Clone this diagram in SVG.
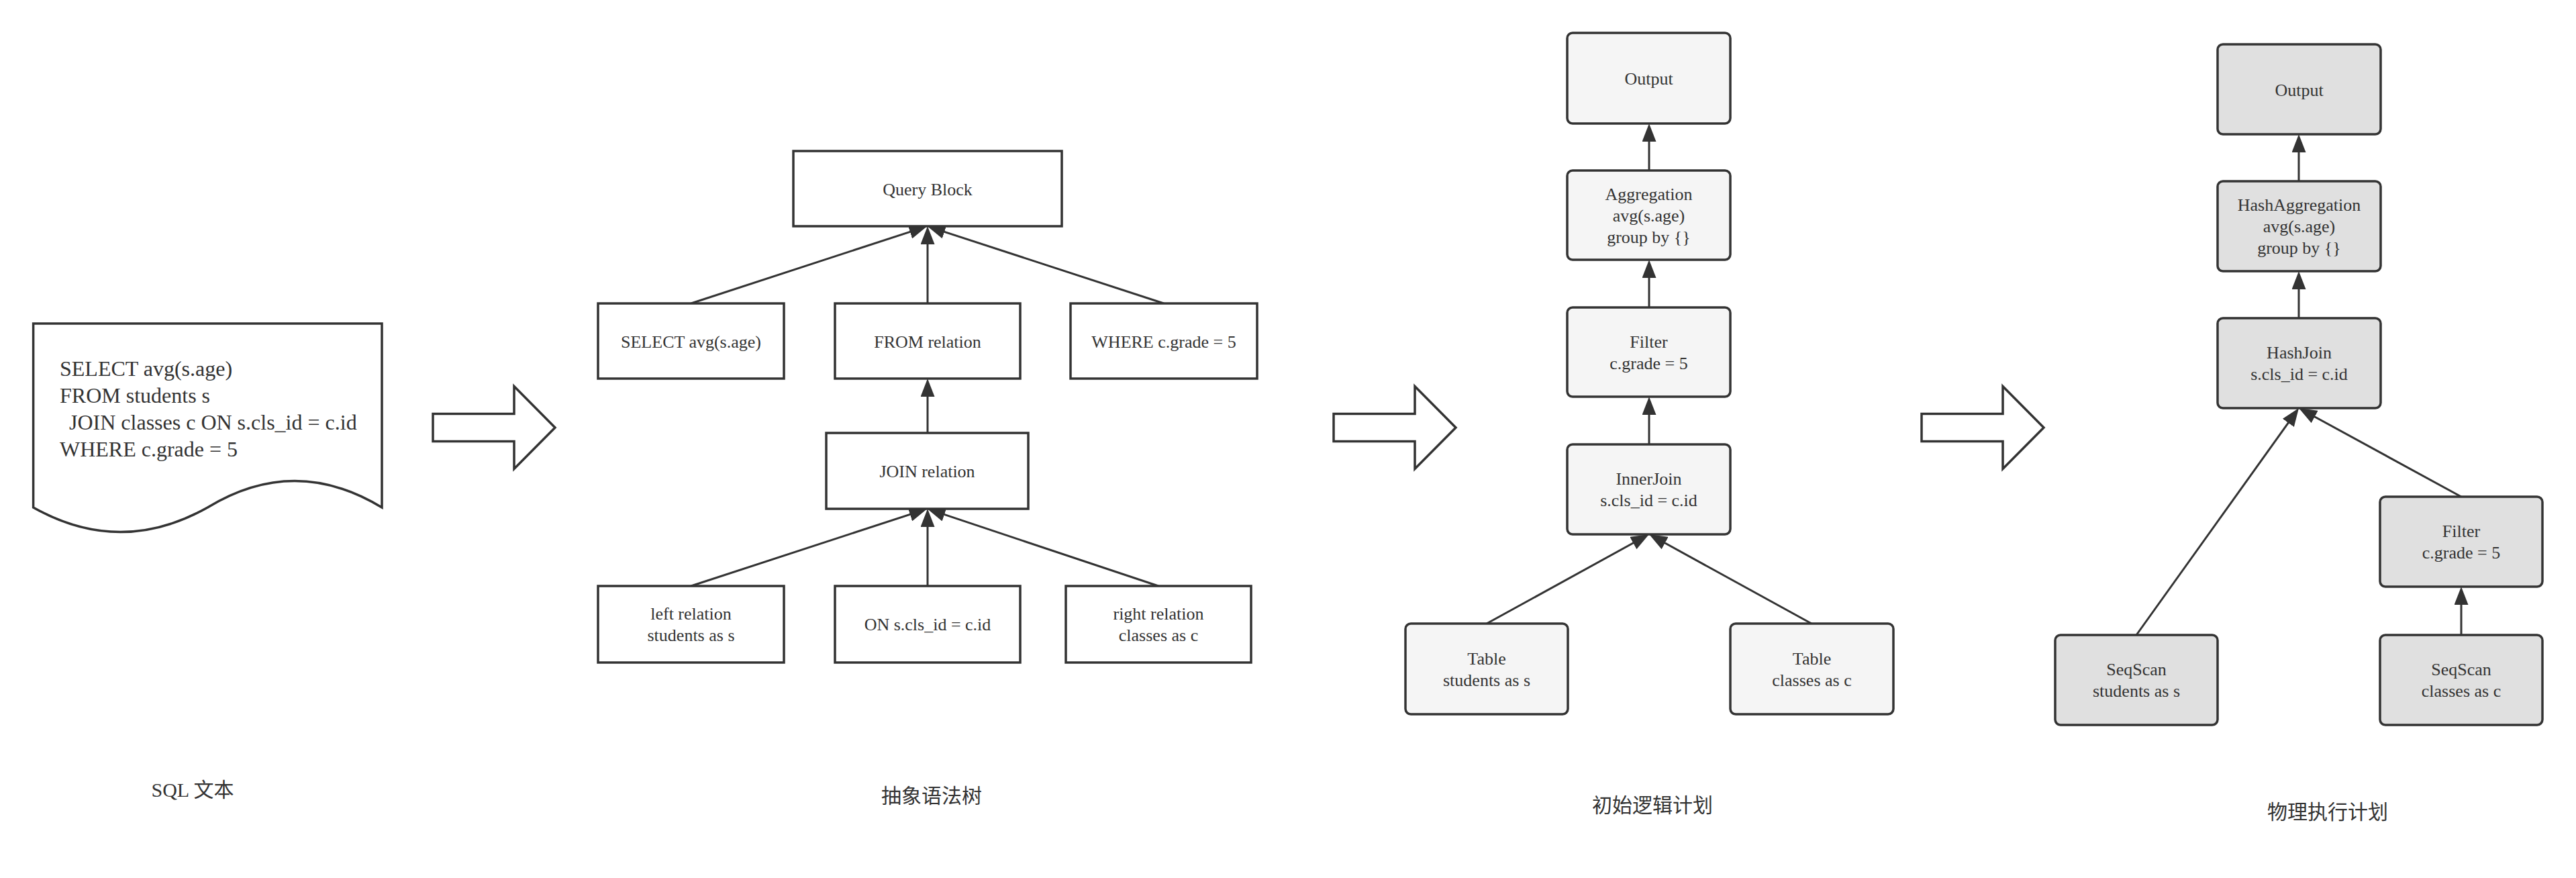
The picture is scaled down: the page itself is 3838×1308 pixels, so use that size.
<svg xmlns="http://www.w3.org/2000/svg" width="3838" height="1308" viewBox="0 0 3838 1308">
<style>
  .bg{fill:#ffffff}
  .box{fill:#ffffff;stroke:#333333;stroke-width:3.5}
  .lp{fill:#f5f5f5;stroke:#333333;stroke-width:3.5}
  .pp{fill:#e0e0e0;stroke:#333333;stroke-width:3.5}
  .edge{fill:none;stroke:#333333;stroke-width:3;marker-end:url(#ah)}
  .big{fill:#ffffff;stroke:#333333;stroke-width:3.5;stroke-linejoin:miter}
  .t{font-family:"Liberation Serif","Times New Roman",serif;font-size:26px;fill:#333333;text-anchor:middle}
  .sql{font-family:"Liberation Serif","Times New Roman",serif;font-size:32px;fill:#333333}
  .cap{font-family:"Liberation Serif","Noto Sans CJK SC",serif;font-size:30px;fill:#333333;text-anchor:middle}
</style>
<defs>
  <marker id="ah" viewBox="0 0 27 21" markerUnits="userSpaceOnUse" markerWidth="27" markerHeight="21" refX="17" refY="10.5" orient="auto">
    <path d="M0,0 L27,10.5 L0,21 Z" fill="#333333"/>
  </marker>
  <path id="bigArrow" d="M0,-20.5 H121 V-61.5 L182,0 L121,61.5 V20.5 H0 Z"/>
</defs>
<rect class="bg" x="0" y="0" width="3838" height="1308"/>

<!-- SQL text document -->
<g id="sql-doc">
  <path class="box" d="M49.6,482 H569 V756 Q439,677 309.3,756 Q179.5,829 49.6,756 Z"/>
  <text class="sql"><tspan x="89" y="560">SELECT avg(s.age)</tspan><tspan x="89" y="600">FROM students s</tspan><tspan x="103" y="640">JOIN classes c ON s.cls_id = c.id</tspan><tspan x="89" y="680">WHERE c.grade = 5</tspan></text>
</g>

<!-- big transition arrows -->
<g id="step-arrows">
  <use href="#bigArrow" class="big" transform="translate(645,637)"/>
  <use href="#bigArrow" class="big" transform="translate(1987,637)"/>
  <use href="#bigArrow" class="big" transform="translate(2863,637)"/>
</g>

<!-- connectors -->
<g id="connectors">
  <line class="edge" x1="1029.5" y1="452" x2="1372.0" y2="340.1"/>
  <line class="edge" x1="1382" y1="452" x2="1382" y2="347"/>
  <line class="edge" x1="1734" y1="452" x2="1391.0" y2="340.1"/>
  <line class="edge" x1="1382" y1="645" x2="1382" y2="574"/>
  <line class="edge" x1="1029.5" y1="873" x2="1372.0" y2="761.1"/>
  <line class="edge" x1="1382" y1="873" x2="1382" y2="768"/>
  <line class="edge" x1="1726" y1="873" x2="1391.0" y2="761.2"/>

  <line class="edge" x1="2457" y1="254" x2="2457" y2="194"/>
  <line class="edge" x1="2457" y1="458" x2="2457" y2="397"/>
  <line class="edge" x1="2457" y1="662" x2="2457" y2="601"/>
  <line class="edge" x1="2215" y1="929" x2="2448.2" y2="800.8"/>
  <line class="edge" x1="2699" y1="929" x2="2465.8" y2="800.8"/>

  <line class="edge" x1="3425" y1="270" x2="3425" y2="210"/>
  <line class="edge" x1="3425" y1="474" x2="3425" y2="414"/>
  <line class="edge" x1="3183" y1="946" x2="3419.2" y2="616.1"/>
  <line class="edge" x1="3667" y1="740" x2="3433.8" y2="612.8"/>
  <line class="edge" x1="3667" y1="946" x2="3667" y2="884"/>
</g>

<!-- AST nodes -->
<g id="ast-query-block"><rect class="box" x="1182" y="225" width="400" height="112"/><text class="t" x="1382" y="291">Query Block</text></g>
<g id="ast-select"><rect class="box" x="891" y="452" width="277" height="112"/><text class="t" x="1029.5" y="518">SELECT avg(s.age)</text></g>
<g id="ast-from"><rect class="box" x="1244" y="452" width="276" height="112"/><text class="t" x="1382" y="518">FROM relation</text></g>
<g id="ast-where"><rect class="box" x="1595" y="452" width="278" height="112"/><text class="t" x="1734" y="518">WHERE c.grade = 5</text></g>
<g id="ast-join"><rect class="box" x="1231" y="645" width="301" height="113"/><text class="t" x="1381.5" y="711">JOIN relation</text></g>
<g id="ast-left"><rect class="box" x="891" y="873" width="277" height="114"/><text class="t"><tspan x="1029.5" y="923">left relation</tspan><tspan x="1029.5" y="955">students as s</tspan></text></g>
<g id="ast-on"><rect class="box" x="1244" y="873" width="276" height="114"/><text class="t" x="1382" y="939">ON s.cls_id = c.id</text></g>
<g id="ast-right"><rect class="box" x="1588" y="873" width="276" height="114"/><text class="t"><tspan x="1726" y="923">right relation</tspan><tspan x="1726" y="955">classes as c</tspan></text></g>

<!-- Logical plan nodes -->
<g id="lp-output"><rect class="lp" x="2335" y="49" width="243" height="135" rx="8"/><text class="t" x="2456.5" y="126">Output</text></g>
<g id="lp-aggregation"><rect class="lp" x="2335" y="254" width="243" height="133" rx="8"/><text class="t"><tspan x="2456.5" y="298">Aggregation</tspan><tspan x="2456.5" y="330">avg(s.age)</tspan><tspan x="2456.5" y="362">group by {}</tspan></text></g>
<g id="lp-filter"><rect class="lp" x="2335" y="458" width="243" height="133" rx="8"/><text class="t"><tspan x="2456.5" y="518">Filter</tspan><tspan x="2456.5" y="550">c.grade = 5</tspan></text></g>
<g id="lp-innerjoin"><rect class="lp" x="2335" y="662" width="243" height="134" rx="8"/><text class="t"><tspan x="2456.5" y="722">InnerJoin</tspan><tspan x="2456.5" y="754">s.cls_id = c.id</tspan></text></g>
<g id="lp-table-s"><rect class="lp" x="2094" y="929" width="242" height="135" rx="8"/><text class="t"><tspan x="2215" y="990">Table</tspan><tspan x="2215" y="1022">students as s</tspan></text></g>
<g id="lp-table-c"><rect class="lp" x="2578" y="929" width="243" height="135" rx="8"/><text class="t"><tspan x="2699.5" y="990">Table</tspan><tspan x="2699.5" y="1022">classes as c</tspan></text></g>

<!-- Physical plan nodes -->
<g id="pp-output"><rect class="pp" x="3304" y="66" width="243" height="134" rx="8"/><text class="t" x="3425.5" y="143">Output</text></g>
<g id="pp-hashagg"><rect class="pp" x="3304" y="270" width="243" height="134" rx="8"/><text class="t"><tspan x="3425.5" y="314">HashAggregation</tspan><tspan x="3425.5" y="346">avg(s.age)</tspan><tspan x="3425.5" y="378">group by {}</tspan></text></g>
<g id="pp-hashjoin"><rect class="pp" x="3304" y="474" width="243" height="134" rx="8"/><text class="t"><tspan x="3425.5" y="534">HashJoin</tspan><tspan x="3425.5" y="566">s.cls_id = c.id</tspan></text></g>
<g id="pp-filter"><rect class="pp" x="3546" y="740" width="242" height="134" rx="8"/><text class="t"><tspan x="3667" y="800">Filter</tspan><tspan x="3667" y="832">c.grade = 5</tspan></text></g>
<g id="pp-seqscan-s"><rect class="pp" x="3062" y="946" width="242" height="134" rx="8"/><text class="t"><tspan x="3183" y="1006">SeqScan</tspan><tspan x="3183" y="1038">students as s</tspan></text></g>
<g id="pp-seqscan-c"><rect class="pp" x="3546" y="946" width="242" height="134" rx="8"/><text class="t"><tspan x="3667" y="1006">SeqScan</tspan><tspan x="3667" y="1038">classes as c</tspan></text></g>

<!-- captions -->
<g id="captions">
  <text class="cap" x="287" y="1187">SQL 文本</text>
  <text class="cap" x="1388" y="1196">抽象语法树</text>
  <text class="cap" x="2462" y="1210">初始逻辑计划</text>
  <text class="cap" x="3468" y="1220">物理执行计划</text>
</g>
</svg>
